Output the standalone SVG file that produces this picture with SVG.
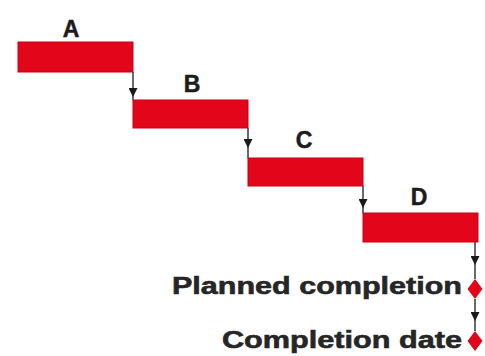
<svg xmlns="http://www.w3.org/2000/svg" width="485" height="356" viewBox="0 0 485 356">
<style>
.bar{fill:#e3061b;stroke:#c80014;stroke-width:1}
.lbl{font-family:"Liberation Sans",Arial,sans-serif;font-weight:bold;font-size:23px;fill:#1c1c1c;stroke:#1c1c1c;stroke-width:0.5}
.txt{font-family:"Liberation Sans",Arial,sans-serif;font-weight:bold;font-size:24px;fill:#262626;stroke:#262626;stroke-width:0.6}
.con{fill:none;stroke:#1a1a1a;stroke-width:1.3}
.dia{fill:#e3061b}
</style>
<defs>
<marker id="ah" viewBox="0 0 10 10" refX="10" refY="5" markerWidth="9" markerHeight="9" markerUnits="userSpaceOnUse" orient="auto">
<path d="M0,0 L10,5 L0,10 z" fill="#1a1a1a"/>
</marker>
</defs>
<g id="connectors">
<path class="con" d="M133,72 L133,97 L133,100" marker-mid="url(#ah)"/>
<path class="con" d="M248,128 L248,148 L248,158" marker-mid="url(#ah)"/>
<path class="con" d="M363,186 L363,208 L363,213" marker-mid="url(#ah)"/>
<path class="con" d="M475,242 L475,265 L475,279" marker-mid="url(#ah)"/>
<path class="con" d="M475,299 L475,321 L475,331" marker-mid="url(#ah)"/>
</g>
<g id="taskA">
<rect class="bar" x="18" y="42" width="115" height="30"/>
<text class="lbl" x="71" y="37" text-anchor="middle">A</text>
</g>
<g id="taskB">
<rect class="bar" x="133" y="100" width="115" height="28"/>
<text class="lbl" x="192" y="92" text-anchor="middle">B</text>
</g>
<g id="taskC">
<rect class="bar" x="248" y="158" width="115" height="28"/>
<text class="lbl" x="304" y="148" text-anchor="middle">C</text>
</g>
<g id="taskD">
<rect class="bar" x="363" y="213" width="115" height="29"/>
<text class="lbl" x="419" y="205" text-anchor="middle">D</text>
</g>
<g id="planned">
<path class="dia" d="M475,279 L482.5,289 L475,299 L467.5,289 z"/>
<text class="txt" x="172" y="294" textLength="290" lengthAdjust="spacingAndGlyphs">Planned completion</text>
</g>
<g id="completion">
<path class="dia" d="M475,331 L482.5,341 L475,351 L467.5,341 z"/>
<text class="txt" x="222" y="348" textLength="240" lengthAdjust="spacingAndGlyphs">Completion date</text>
</g>
</svg>
